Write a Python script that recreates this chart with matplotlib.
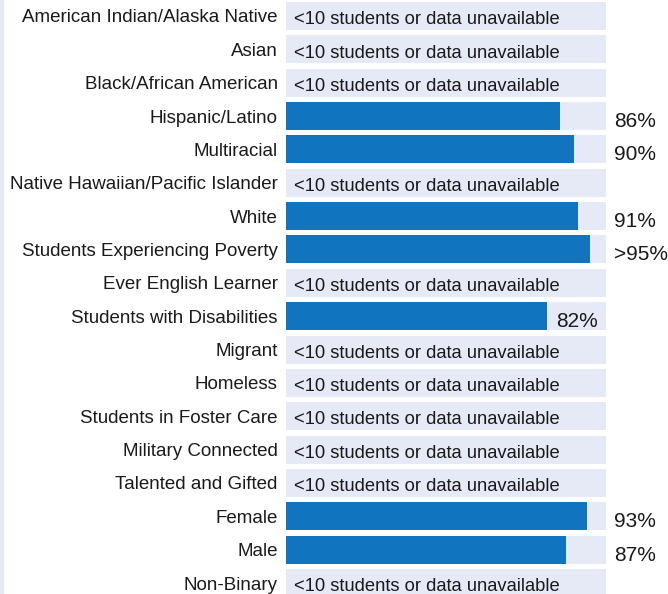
import matplotlib
matplotlib.use("Agg")
import matplotlib.pyplot as plt
from matplotlib.patches import Rectangle

plt.rcParams['font.family'] = ['Liberation Sans', 'DejaVu Sans']

# ================> Part Data
groups = ["American Indian/Alaska Native", "Asian", "Black/African American",
          "Hispanic/Latino", "Multiracial", "Native Hawaiian/Pacific Islander",
          "White", "Students Experiencing Poverty", "Ever English Learner",
          "Students with Disabilities", "Migrant", "Homeless",
          "Students in Foster Care", "Military Connected", "Talented and Gifted",
          "Female", "Male", "Non-Binary"]
# None = suppressed (<10 students or data unavailable)
values = [None, None, None, 85.6, 90, None, 91.2, 95, None, 81.6,
          None, None, None, None, None, 94, 87.5, None]
value_labels = ["", "", "", "86%", "90%", "", "91%", ">95%", "", "82%",
                "", "", "", "", "", "93%", "87%", ""]
no_data_text = "<10 students or data unavailable"

_BLUE = "#1075be"
_BACK = "#e6e9f6"
_TEXT = "#1a1a1a"

# ================> Part Plot
fig = plt.figure(figsize=(6.68, 5.94), dpi=100)
# thin strip on the left edge of the container
fig.patches.append(Rectangle((0, 0), 3 / 668, 1, transform=fig.transFigure,
                             color=_BACK, zorder=0))

ax = fig.add_axes([286 / 668, -5.7 / 594, 320 / 668, 600.4 / 594])
y_pos = list(range(len(groups)))
ax.barh(y_pos, [100] * len(groups), height=0.84, color=_BACK, zorder=1)

for i, (v, lab) in enumerate(zip(values, value_labels)):
    if v is None:
        ax.text(2.5, i + 0.11, no_data_text, fontsize=13.2, color=_TEXT,
                va='center', ha='left', zorder=3)
        continue
    ax.barh(i, v, height=0.84, color=_BLUE, zorder=2)
    # label inside the track if there is room, else past its end
    x_lab = v + 2.8 if v <= 84 else 102.5
    ax.text(x_lab, i + 0.16, lab, fontsize=15, color=_TEXT,
            va='center', ha='left', zorder=3, clip_on=False)

ax.set_xlim(0, 100)
ax.set_ylim(len(groups) - 0.5, -0.5)
ax.set_yticks(y_pos)
ax.set_yticklabels(groups, fontsize=13.5, color=_TEXT, va='center_baseline')
ax.tick_params(axis='y', length=0, pad=6)
ax.tick_params(axis='x', bottom=False, labelbottom=False)
for s in ax.spines.values():
    s.set_visible(False)

fig.savefig("out.png", dpi=100)
